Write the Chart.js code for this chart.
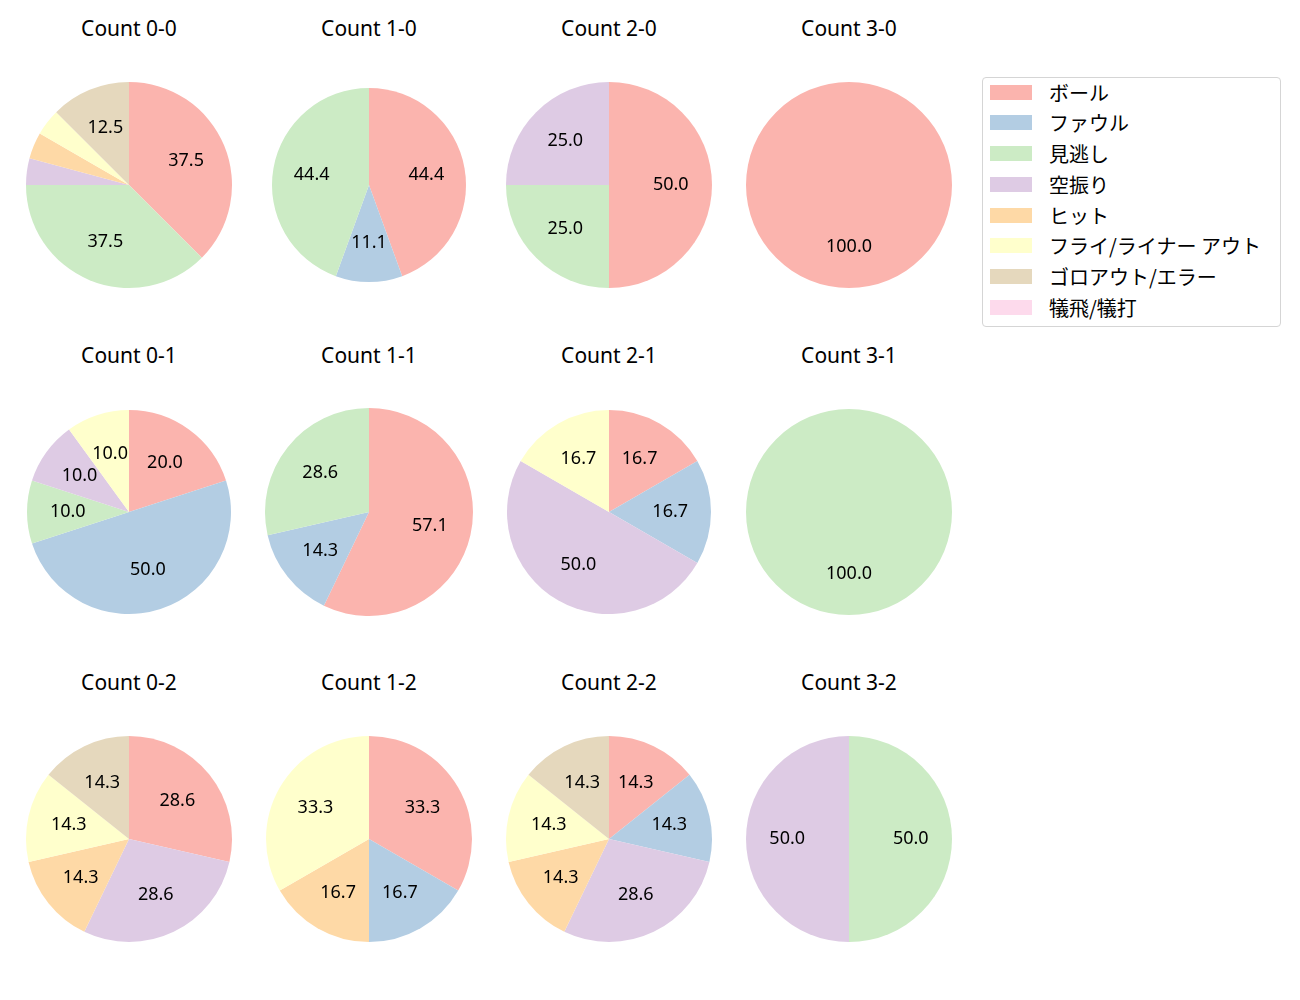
<!DOCTYPE html>
<html>
<head>
<meta charset="utf-8">
<script src="https://cdn.jsdelivr.net/npm/chart.js@4.4.0/dist/chart.umd.min.js"></script>
<style>
  body { margin: 0; background: #fff; font-family: "Noto Sans", "Noto Sans CJK JP", sans-serif; }
  #wrap { position: relative; width: 1300px; height: 1000px; }
  .pie { position: absolute; width: 230px; height: 230px; }
  .ttl { position: absolute; width: 240px; text-align: center; font-size: 21px; color: #000; line-height: 24px; }
  #legend { position: absolute; left: 982px; top: 77px; width: 299px; height: 250px;
            border: 1px solid #d5d5d5; border-radius: 4px; box-sizing: border-box; }
  .lrow { position: absolute; left: 7px; height: 30px; display: flex; align-items: center; font-size: 20px;
          font-family: "Noto Sans CJK JP", sans-serif; }
  .lbox { width: 42px; height: 15px; margin-right: 17px; }
</style>
</head>
<body>
<div id="wrap"></div>
<script>
// 凡例カテゴリ
const categories = ['ボール', 'ファウル', '見逃し', '空振り', 'ヒット', 'フライ/ライナー アウト', 'ゴロアウト/エラー', '犠飛/犠打'];
const colors = ['#fbb4ae', '#b3cde3', '#ccebc5', '#decbe4', '#fed9a6', '#ffffcc', '#e5d8bd', '#fddaec'];

// カウント別の件数 (categories順)
const titles = ['Count 0-0', 'Count 1-0', 'Count 2-0', 'Count 3-0',
                'Count 0-1', 'Count 1-1', 'Count 2-1', 'Count 3-1',
                'Count 0-2', 'Count 1-2', 'Count 2-2', 'Count 3-2'];
const c00 = [9, 0, 9, 1, 1, 1, 3, 0];
const c10 = [4, 1, 4, 0, 0, 0, 0, 0];
const c20 = [2, 0, 1, 1, 0, 0, 0, 0];
const c30 = [1, 0, 0, 0, 0, 0, 0, 0];
const c01 = [2, 5, 1, 1, 0, 1, 0, 0];
const c11 = [4, 1, 2, 0, 0, 0, 0, 0];
const c21 = [1, 1, 0, 3, 0, 1, 0, 0];
const c31 = [0, 0, 1, 0, 0, 0, 0, 0];
const c02 = [2, 0, 0, 2, 1, 1, 1, 0];
const c12 = [2, 1, 0, 0, 1, 2, 0, 0];
const c22 = [1, 1, 0, 2, 1, 1, 1, 0];
const c32 = [0, 0, 1, 1, 0, 0, 0, 0];
const series = [c00, c10, c20, c30, c01, c11, c21, c31, c02, c12, c22, c32];

// レイアウト
const colX = [129, 369, 609, 849];
const rowY = [185, 512, 839];
const radii = [103, 97, 103, 103, 102, 104, 102, 103, 103, 103, 103, 103];

// 扇形の中に%表示 (5%未満は省略)
const pctLabels = {
    id: 'pctLabels',
    afterDatasetsDraw(chart) {
        const ctx = chart.ctx;
        const ds = chart.data.datasets[0];
        const total = ds.data.reduce((a, b) => a + b, 0);
        ctx.save();
        ctx.font = '18px "Noto Sans", sans-serif';
        ctx.fillStyle = '#000';
        ctx.textAlign = 'center';
        ctx.textBaseline = 'middle';
        chart.getDatasetMeta(0).data.forEach((arc, i) => {
            const pct = ds.data[i] / total * 100;
            if (pct < 5) return;
            const a = (arc.startAngle + arc.endAngle) / 2;
            const r = arc.outerRadius * 0.6;
            ctx.fillText(pct.toFixed(1), arc.x + Math.cos(a) * r, arc.y + Math.sin(a) * r);
        });
        ctx.restore();
    }
};

const wrap = document.getElementById('wrap');
titles.forEach((t, k) => {
    const cx = colX[k % 4], cy = rowY[Math.floor(k / 4)];
    const tt = document.createElement('div');
    tt.className = 'ttl';
    tt.style.left = (cx - 120) + 'px';
    tt.style.top = (cy - 169) + 'px';
    tt.textContent = t;
    wrap.appendChild(tt);

    const box = document.createElement('div');
    box.className = 'pie';
    box.style.left = (cx - 115) + 'px';
    box.style.top = (cy - 115) + 'px';
    const cv = document.createElement('canvas');
    cv.width = 230; cv.height = 230;
    box.appendChild(cv);
    wrap.appendChild(box);

    new Chart(cv.getContext('2d'), {
        type: 'pie',
        data: {
            labels: categories,
            datasets: [{ data: series[k], backgroundColor: colors, borderWidth: 0 }]
        },
        options: {
            responsive: false,
            animation: false,
            radius: radii[k],
            plugins: { legend: { display: false }, tooltip: { enabled: false } }
        },
        plugins: [pctLabels]
    });
});

// 凡例
const lg = document.createElement('div');
lg.id = 'legend';
categories.forEach((c, i) => {
    const row = document.createElement('div');
    row.className = 'lrow';
    row.style.top = (-1 + i * 30.75) + 'px';
    row.innerHTML = '<div class="lbox" style="background:' + colors[i] + '"></div><span>' + c + '</span>';
    lg.appendChild(row);
});
wrap.appendChild(lg);
</script>
</body>
</html>
